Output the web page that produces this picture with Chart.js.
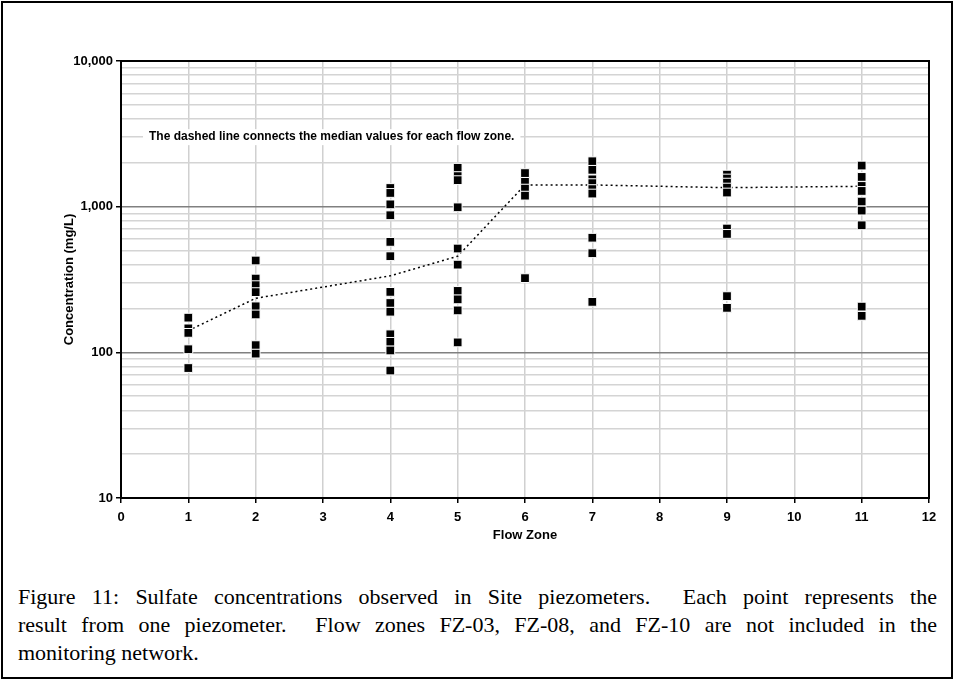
<!DOCTYPE html>
<html>
<head>
<meta charset="utf-8">
<script src="https://cdn.jsdelivr.net/npm/chart.js@4/dist/chart.umd.min.js"></script>
<style>
    html, body { margin: 0; padding: 0; background: #fff; }
    #frame { position: absolute; left: 1px; top: 1px; width: 952px; height: 678px; border: 2px solid #000; box-sizing: border-box; }
    #sulfateChart { position: absolute; left: 0; top: 0; }
    #caption { position: absolute; left: 18px; top: 583px; width: 919px;
        font-family: "Liberation Serif", "Times New Roman", serif; font-size: 22px; line-height: 28px; color: #000; }
    #caption .jl { text-align: justify; text-align-last: justify; }
</style>
</head>
<body>
<div id="frame"></div>
<canvas id="sulfateChart" width="955" height="560"></canvas>
<div id="caption">
    <div class="jl">Figure 11: Sulfate concentrations observed in Site piezometers.&nbsp; Each point represents the</div>
    <div class="jl">result from one piezometer.&nbsp; Flow zones FZ-03, FZ-08, and FZ-10 are not included in the</div>
    <div>monitoring network.</div>
</div>
<script>
// Flow zones that have piezometers (FZ-03, FZ-08, FZ-10 are missing)
const zones = [1, 2, 4, 5, 6, 7, 9, 11];

// Sulfate results (mg/L) per flow zone
const fz01 = [173, 146, 136, 105, 78];
const fz02 = [427, 321, 289, 259, 207, 182, 112, 98];
const fz04 = [1343, 1242, 1037, 873, 573, 457, 260, 218, 190, 133, 118, 103, 75];
const fz05 = [1850, 1620, 1520, 990, 516, 400, 264, 231, 194, 117];
const fz06 = [1700, 1480, 1330, 1190, 323];
const fz07 = [2050, 1790, 1540, 1450, 1320, 1230, 612, 479, 222];
const fz09 = [1660, 1560, 1462, 1352, 1250, 708, 650, 243, 202];
const fz11 = [1915, 1600, 1387, 1282, 1084, 940, 745, 206, 178];
const zoneResults = [fz01, fz02, fz04, fz05, fz06, fz07, fz09, fz11];

// Median of each flow zone (the dashed line)
const medians = [141, 235, 335, 457, 1410, 1410, 1350, 1380];

// Axis ticks
const xTicks = [0, 1, 2, 3, 4, 5, 6, 7, 8, 9, 10, 11, 12];
const yTicks = [10, 20, 30, 40, 50, 60, 70, 80, 90,
                100, 200, 300, 400, 500, 600, 700, 800, 900,
                1000, 2000, 3000, 4000, 5000, 6000, 7000, 8000, 9000, 10000];

const noteText = 'The dashed line connects the median values for each flow zone.';

const FONT = '"Liberation Sans", Arial, sans-serif';

function isDecade(v) {
    const l = Math.log10(v);
    return Math.abs(l - Math.round(l)) < 1e-9;
}

// build scatter points from the zone arrays
const points = [];
zones.forEach((z, i) => {
    zoneResults[i].forEach(v => points.push({ x: z, y: v }));
});
const medianLine = zones.map((z, i) => ({ x: z, y: medians[i] }));

// note box + black frame round the plot area
const plotExtras = {
    id: 'plotExtras',
    beforeDatasetsDraw(chart) {
        const { ctx, chartArea: a } = chart;
        ctx.save();
        ctx.font = 'bold 12px ' + FONT;
        const w = ctx.measureText(noteText).width;
        const y = chart.scales.y.getPixelForValue(3000);
        ctx.fillStyle = '#fff';
        ctx.fillRect(a.left + 22, y - 8, w + 12, 16);
        ctx.fillStyle = '#000';
        ctx.textBaseline = 'middle';
        ctx.fillText(noteText, a.left + 28, y);

        ctx.strokeStyle = '#000';
        ctx.lineWidth = 2;
        ctx.strokeRect(a.left, a.top, a.right - a.left, a.bottom - a.top);
        ctx.restore();
    }
};

const ctx = document.getElementById('sulfateChart').getContext('2d');
new Chart(ctx, {
    type: 'scatter',
    data: {
        datasets: [{
            label: 'Sulfate',
            data: points,
            pointStyle: 'rect',
            pointRadius: 6.2,
            backgroundColor: '#000',
            borderColor: '#fff',
            borderWidth: 1,
            showLine: false
        }, {
            label: 'Median',
            data: medianLine,
            showLine: true,
            borderColor: '#000',
            borderWidth: 1.5,
            borderDash: [2, 3],
            pointRadius: 0,
            fill: false
        }]
    },
    options: {
        responsive: false,
        animation: false,
        layout: { padding: { left: 0, top: 61, right: 26, bottom: 0 } },
        plugins: {
            legend: { display: false },
            tooltip: { enabled: false }
        },
        scales: {
            x: {
                type: 'linear',
                min: 0,
                max: 12,
                afterBuildTicks: s => { s.ticks = xTicks.map(v => ({ value: v })); },
                afterFit: s => { s.height = 62; },
                ticks: {
                    autoSkip: false,
                    maxRotation: 0,
                    padding: 7,
                    color: '#000',
                    font: { family: FONT, size: 13, weight: 'bold' }
                },
                grid: { color: '#d0d0d0', lineWidth: 1.5, tickColor: '#000', tickLength: 5 },
                border: { color: '#000', width: 2 },
                title: {
                    display: true,
                    text: 'Flow Zone',
                    color: '#000',
                    font: { family: FONT, size: 13, weight: 'bold' },
                    padding: { top: 0, bottom: 17 }
                }
            },
            y: {
                type: 'logarithmic',
                min: 10,
                max: 10000,
                afterBuildTicks: s => { s.ticks = yTicks.map(v => ({ value: v })); },
                afterFit: s => { s.width = 121; },
                ticks: {
                    autoSkip: false,
                    padding: 3,
                    color: '#000',
                    font: { family: FONT, size: 13, weight: 'bold' },
                    callback: function(value) {
                        return isDecade(value) ? Number(value).toLocaleString('en-US') : '';
                    }
                },
                grid: {
                    color: c => isDecade(c.tick.value) ? '#808080' : '#d4d4d4',
                    lineWidth: 1.5,
                    tickColor: c => isDecade(c.tick.value) ? '#000' : 'rgba(0,0,0,0)',
                    tickLength: 5
                },
                border: { color: '#000', width: 2 },
                title: {
                    display: true,
                    text: 'Concentration (mg/L)',
                    color: '#000',
                    font: { family: FONT, size: 13, weight: 'bold' },
                    padding: { top: 62, bottom: 0 }
                }
            }
        }
    },
    plugins: [plotExtras]
});
</script>
</body>
</html>
